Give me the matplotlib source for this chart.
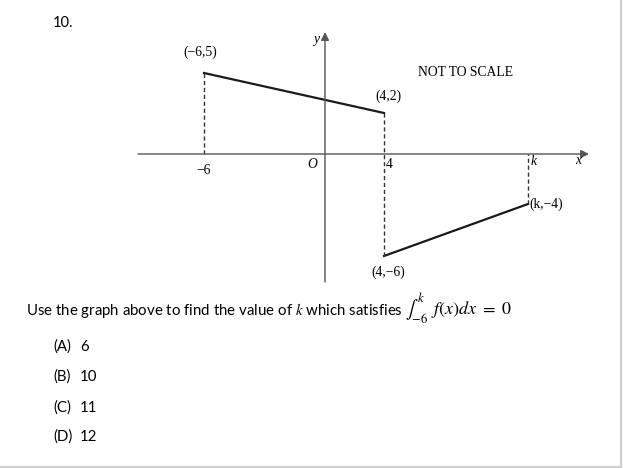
import numpy as np
import matplotlib.pyplot as plt
from matplotlib.scale import FuncScale

plt.rcParams['mathtext.fontset'] = 'stix'

# graph data (true values, drawing is "not to scale")
k = 11
seg1_x = [-6, 4]
seg1_y = [5, 2]
seg2_x = [4, k]
seg2_y = [-6, -4]
drops = [(-6, 0, 5), (4, -6, 2), (k, -4, 0)]
point_labels = ['(\u22126,5)', '(4,2)', '(4,\u22126)', '(k,\u22124)']
options = ['(A)', '(B)', '(C)', '(D)']
option_vals = ['6', '10', '11', '12']

W, H = 623, 468
fig = plt.figure(figsize=(W / 100, H / 100), dpi=100)
ax = fig.add_axes([0, 0, 1, 1])
ax.axis('off')

# piecewise scale so the sketch looks like the original
xk = np.array([-100, -6, 0, 4, 11, 100])
xp = np.array([204 - 94 * 20.2, 204, 325, 384, 528, 528 + 89 * 20.6])
yk = np.array([-100, -6, -4, 0, 2, 5, 100])
yp = np.array([256 + 94 * 17, 256, 204, 154, 113, 73, 73 - 95 * 16])

ax.set_xscale(FuncScale(ax.xaxis, (lambda v: np.interp(v, xk, xp),
                                    lambda p: np.interp(p, xp, xk))))
ax.set_yscale(FuncScale(ax.yaxis, (lambda v: -np.interp(v, yk, yp),
                                    lambda p: np.interp(p, -yp, yk))))
ax.set_xlim(np.interp(0, xp, xk), np.interp(W, xp, xk))
ax.set_ylim(np.interp(-H, -yp, yk), np.interp(0, -yp, yk))

gray = '#555555'
# axes with arrows
ax.annotate('', xy=(589 / W, 0), xytext=(138 / W, 0),
            xycoords=('axes fraction', 'data'),
            arrowprops=dict(arrowstyle='-|>', lw=1.0, color=gray,
                            mutation_scale=12, shrinkA=0, shrinkB=0))
ax.annotate('', xy=(0, 1 - 32 / H), xytext=(0, 1 - 282 / H),
            xycoords=('data', 'axes fraction'),
            arrowprops=dict(arrowstyle='-|>', lw=1.0, color=gray,
                            mutation_scale=12, shrinkA=0, shrinkB=0))

ax.plot(seg1_x, seg1_y, color='#1a1a1a', lw=1.6)
ax.plot(seg2_x, seg2_y, color='#1a1a1a', lw=1.6)
for xv, y0, y1 in drops:
    ax.plot([xv, xv], [y0, y1], color='#333333', lw=1.0, ls=(0, (3, 2)))

serif = 'Liberation Serif'
fs = 9.8
ax.annotate(point_labels[0], (seg1_x[0], seg1_y[0]), xytext=(-3, 10),
            textcoords='offset points', ha='center', va='bottom',
            family=serif, fontsize=fs)
ax.annotate(point_labels[1], (seg1_x[1], seg1_y[1]), xytext=(3, 7),
            textcoords='offset points', ha='center', va='bottom',
            family=serif, fontsize=fs)
ax.annotate(point_labels[2], (seg2_x[0], seg2_y[0]), xytext=(3, -7),
            textcoords='offset points', ha='center', va='top',
            family=serif, fontsize=fs)
ax.annotate(point_labels[3], (seg2_x[1], seg2_y[1]), xytext=(1, 0),
            textcoords='offset points', ha='left', va='center',
            family=serif, fontsize=fs)

ax.annotate('\u22126', (-6, 0), xytext=(0, -7), textcoords='offset points',
            ha='center', va='top', family=serif, fontsize=fs)
ax.annotate('4', (4, 0), xytext=(1.5, -3), textcoords='offset points',
            ha='left', va='top', family=serif, fontsize=fs)
ax.annotate('O', (0, 0), xytext=(-9, -3), textcoords='offset points',
            ha='center', va='top', family=serif, fontsize=fs, style='italic')
ax.annotate('k', (k, 0), xytext=(2, -1), textcoords='offset points',
            ha='left', va='top', family=serif, fontsize=fs, style='italic')
fig.text(578 / W, 1 - 161 / H, 'x', family=serif, fontsize=fs,
         style='italic', ha='center', va='center')
fig.text(316 / W, 1 - 39 / H, 'y', family=serif, fontsize=fs,
         style='italic', ha='center', va='center')
fig.text(466 / W, 1 - 73 / H, 'NOT TO SCALE', family=serif, fontsize=fs,
         ha='center', va='center')

# question text
sans = 'Lato'
qfs = 10.8
fig.text(53 / W, 1 - 23 / H, '10.', family=sans, fontsize=10.5,
         ha='left', va='center')
fig.text(26 / W, 1 - 315 / H,
         'Use the graph above to find the value of $\\mathit{k}$ which satisfies',
         family=sans, fontsize=qfs, ha='left', va='baseline')
fig.text(405 / W, 1 - 315 / H, '$\\int_{-6}^{k}\\,\\,\\, f(x)dx\\ =\\ 0$',
         fontsize=13, ha='left', va='baseline')
opt_y = [351, 381, 412, 441]
for lab, val, yy in zip(options, option_vals, opt_y):
    fig.text(53 / W, 1 - yy / H, lab, family=sans, fontsize=qfs,
             ha='left', va='baseline')
    fig.text(80 / W, 1 - yy / H, val, family=sans, fontsize=qfs,
             ha='left', va='baseline')

# page border (right and bottom)
fig.add_artist(plt.Line2D([621 / W, 621 / W], [1 - 467 / H, 1], color='#d0d0d0',
                          lw=1.6, transform=fig.transFigure))
fig.add_artist(plt.Line2D([0, 621 / W], [1 - 466.5 / H, 1 - 466.5 / H],
                          color='#d0d0d0', lw=1.6, transform=fig.transFigure))

fig.savefig('out.png', dpi=100)
